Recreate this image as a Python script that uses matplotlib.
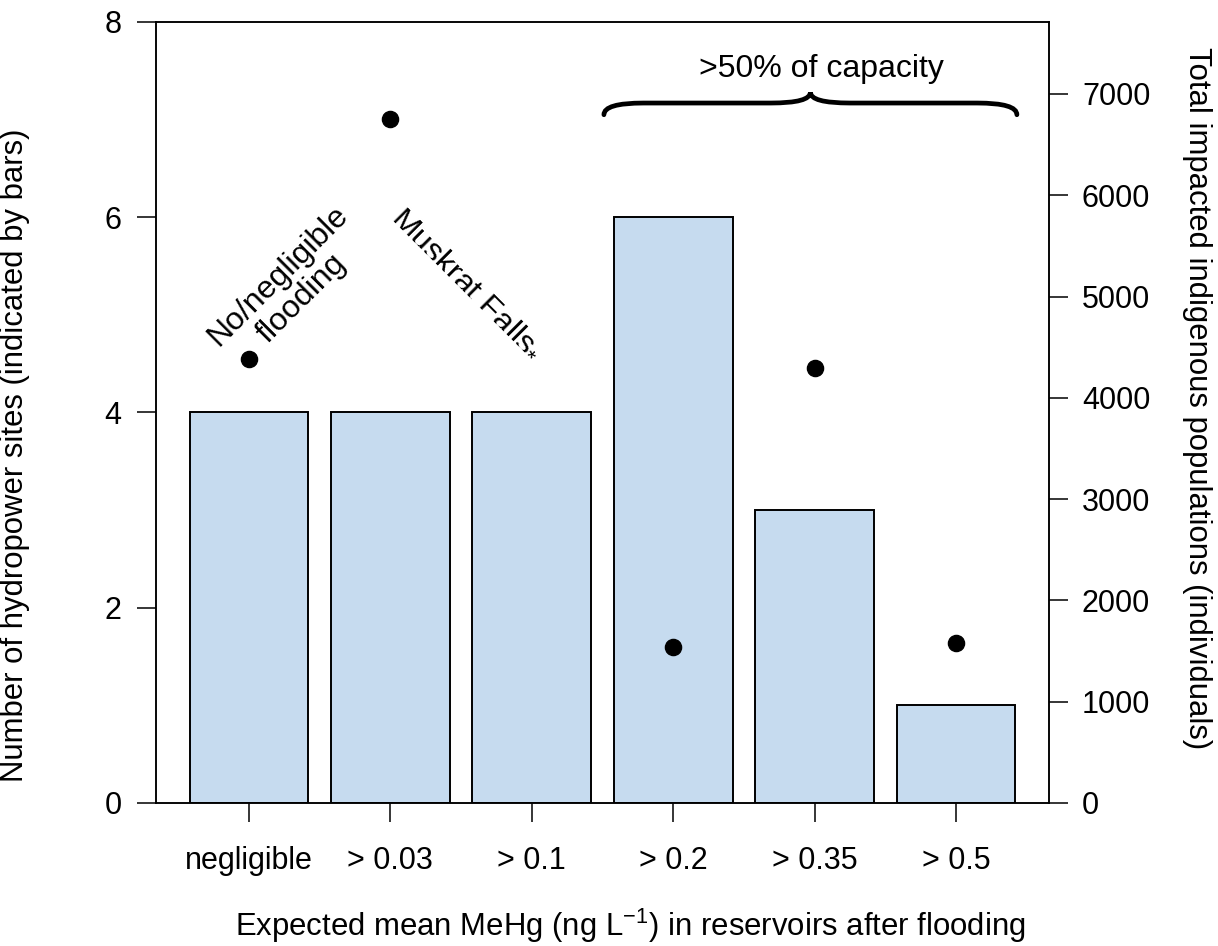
import numpy as np
import matplotlib
matplotlib.use("Agg")
import matplotlib.pyplot as plt
from matplotlib.path import Path
from matplotlib.patches import PathPatch

plt.rcParams['font.family'] = ['Liberation Sans', 'DejaVu Sans']
plt.rcParams['mathtext.fontset'] = 'custom'
plt.rcParams['mathtext.rm'] = 'Liberation Sans'

# data
categories = ['negligible', '> 0.03', '> 0.1', '> 0.2', '> 0.35', '> 0.5']
n_sites = [4, 4, 4, 6, 3, 1]
populations = [4380, 6750, np.nan, 1540, 4290, 1580]

FS = 22
LFS = 22.4
AFS = 23
bar_color = '#c6dbef'

fig = plt.figure(figsize=(12.18, 9.46), dpi=100)
ax = fig.add_axes([156/1218, 1 - 803/946, (1049 - 156)/1218, (803 - 22)/946])

x = np.arange(len(categories))
ax.bar(x, n_sites, width=0.84, color=bar_color, edgecolor='black', linewidth=1.4, zorder=2)
ax.set_xlim(-0.657, 5.657)
ax.set_ylim(0, 8)
ax.set_yticks([0, 2, 4, 6, 8])
ax.set_xticks(x)
ax.set_xticklabels(categories)
ax.tick_params(axis='both', labelsize=FS, length=13.7, width=1.1, direction='out')
ax.tick_params(axis='x', pad=17)
ax.tick_params(axis='y', pad=11)
for s in ax.spines.values():
    s.set_linewidth(1.1)

ax.set_ylabel('Number of hydropower sites (indicated by bars)', fontsize=LFS)
ax.yaxis.set_label_coords(-0.141, (803 - 455) / 781)
ax.set_xlabel('Expected mean MeHg (ng L$^{\\mathregular{-1}}$) in reservoirs after flooding',
              fontsize=LFS, va='center')
ax.xaxis.set_label_coords((630 - 156) / 893, (803 - 926) / 781)

# right axis: populations
ax2 = ax.twinx()
ax2.set_ylim(0, 7710)
ax2.set_yticks([0, 1000, 2000, 3000, 4000, 5000, 6000, 7000])
ax2.scatter(x, populations, s=135, color='black', zorder=3)
ax2.tick_params(axis='y', labelsize=FS, length=13.7, width=1.1, pad=10)
ax2.set_ylabel('Total impacted indigenous populations (individuals)', fontsize=LFS,
               rotation=270, va='center')
ax2.yaxis.set_label_coords(1.166, (803 - 398) / 781)
for s in ax2.spines.values():
    s.set_linewidth(1.1)

# annotations
ax.text(0.29, 5.28, 'No/negligible\nflooding', rotation=45, fontsize=AFS,
        ha='center', va='center', multialignment='center', linespacing=1.1)
ax.text(1.56, 5.34, 'Muskrat Falls$\\mathregular{_{*}}$', rotation=-45, fontsize=AFS,
        ha='center', va='center', rotation_mode='anchor')

# curly brace over the last three bars
xl, xr = 2.51, 5.43
xm = (xl + xr) / 2
y_end, y_bar, y_tip = 7.05, 7.17, 7.28
d = 0.28
verts = [(xl, y_end), (xl, y_bar), (xl + d, y_bar),
         (xm - d, y_bar),
         (xm, y_bar), (xm, y_tip),
         (xm, y_bar), (xm + d, y_bar),
         (xr - d, y_bar),
         (xr, y_bar), (xr, y_end)]
codes = [Path.MOVETO, Path.CURVE3, Path.CURVE3,
         Path.LINETO,
         Path.CURVE3, Path.CURVE3,
         Path.CURVE3, Path.CURVE3,
         Path.LINETO,
         Path.CURVE3, Path.CURVE3]
ax.add_patch(PathPatch(Path(verts, codes), facecolor='none', edgecolor='black',
                       linewidth=3.4, capstyle='round', zorder=4))
ax.text(xm + 0.08, 7.52, '>50% of capacity', fontsize=AFS, ha='center', va='center')

plt.savefig('out.png', dpi=100)
